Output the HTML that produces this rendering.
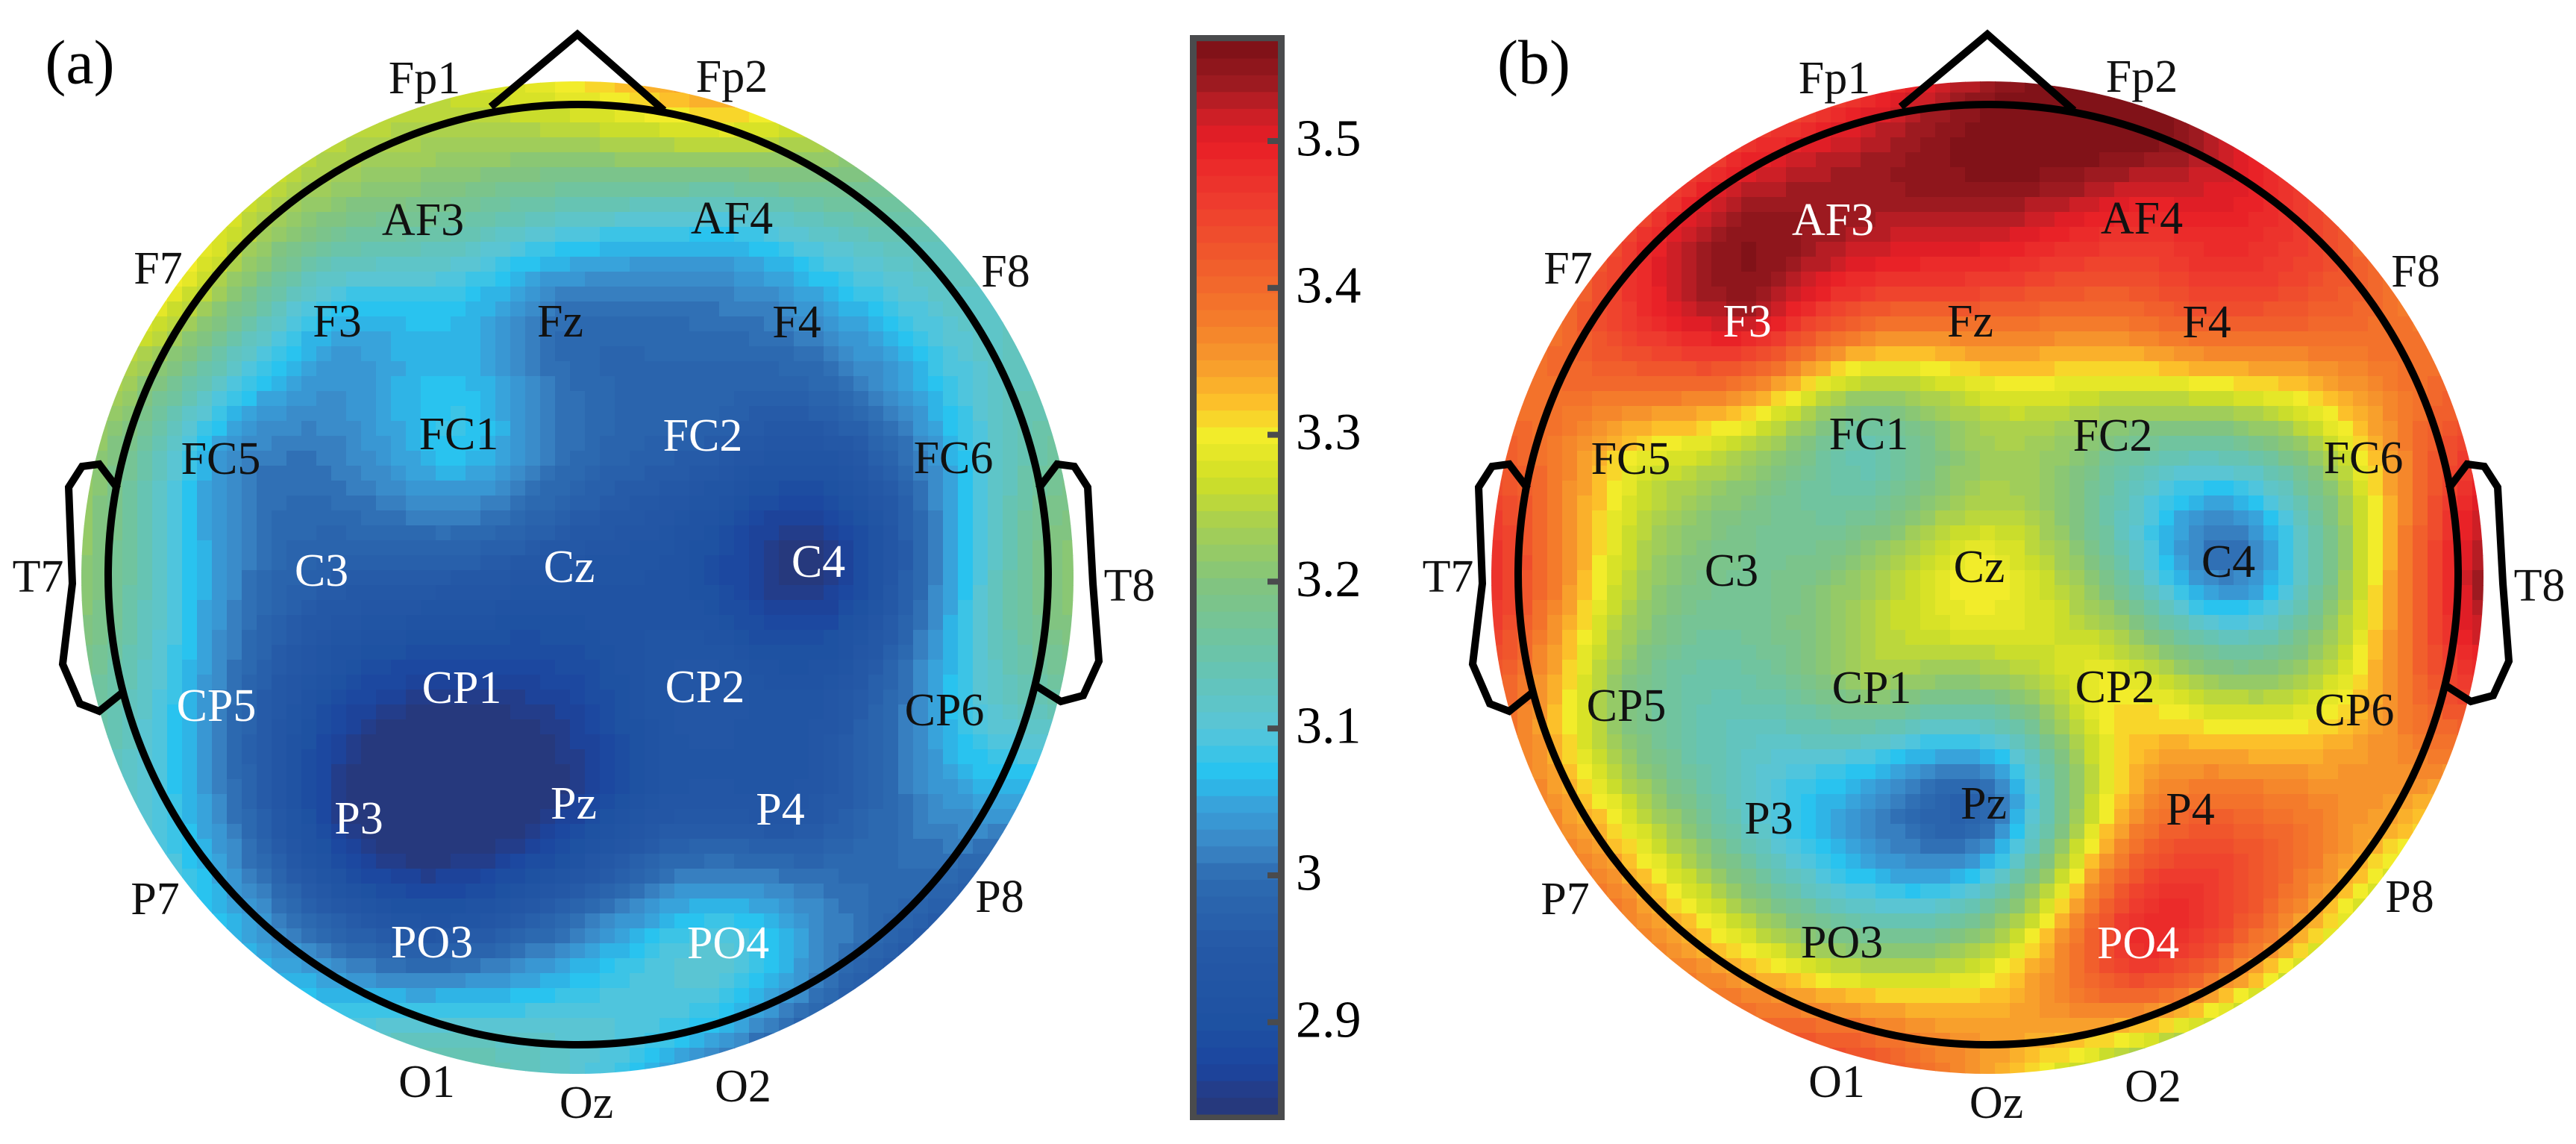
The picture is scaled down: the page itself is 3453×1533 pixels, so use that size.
<!DOCTYPE html>
<html><head><meta charset="utf-8"><style>
html,body{margin:0;padding:0;background:#fff;}
svg{display:block;}
svg text{font-family:"Liberation Serif","Times New Roman","DejaVu Serif",serif !important;}
</style></head><body>
<svg id="fig" width="3453" height="1533" viewBox="0 0 3453 1533" xmlns="http://www.w3.org/2000/svg">
<defs>
<clipPath id="discA"><circle cx="774" cy="774" r="665"/></clipPath>
<clipPath id="discB"><circle cx="2664" cy="774" r="665"/></clipPath>
</defs>
<g id="headA"><g id="cellsA" clip-path="url(#discA)"></g></g>
<g id="headB"><g id="cellsB" clip-path="url(#discB)"></g></g>
<g id="cbar"></g>
<text x="107" y="84" font-size="84" text-anchor="middle" dominant-baseline="central">(a)</text>
<text x="2056" y="84" font-size="84" text-anchor="middle" dominant-baseline="central">(b)</text>
</svg>
<script>
const electrodes = ["Fp1","Fp2","AF3","AF4","F7","F8","F3","Fz","F4","FC5","FC1","FC2","FC6","T7","C3","Cz","C4","T8","CP5","CP1","CP2","CP6","P7","P3","Pz","P4","P8","PO3","PO4","O1","Oz","O2"];
const valuesA = [3.26,3.36,3.17,3.10,3.32,3.12,3.06,3.00,3.02,3.04,3.08,2.97,3.06,3.24,2.97,2.93,2.84,3.21,3.02,2.86,2.94,3.06,3.10,2.84,2.86,2.93,2.94,2.95,3.10,3.16,3.08,2.94];
const valuesB = [3.42,3.57,3.54,3.48,3.38,3.36,3.52,3.40,3.42,3.30,3.15,3.20,3.30,3.50,3.18,3.30,3.00,3.57,3.20,3.22,3.30,3.32,3.40,3.10,2.98,3.40,3.22,3.20,3.48,3.45,3.30,3.12];
const whiteA = ["FC2","C3","Cz","C4","CP5","CP1","CP2","P3","Pz","P4","PO3","PO4"];
const whiteB = ["AF3","F3","PO4"];
const cbTicks = [3.5,3.4,3.3,3.2,3.1,3.0,2.9];
const cbTickLabels = ["3.5","3.4","3.3","3.2","3.1","3","2.9"];
const cmin = 2.8375, cmax = 3.568;
// layout (not data): electrode offsets from head centre
const elecPos = [[-205,-665],[207,-667],[-207,-475],[207,-477],[-562,-410],[574,-406],[-322,-339],[-23,-339],[294,-338],[-478,-155],[-159,-188],[168,-186],[504,-156],[-723,3],[-343,-5],[-11,-10],[323,-17],[740,15],[-484,176],[-155,152],[171,151],[492,182],[-566,435],[-293,327],[-5,307],[272,315],[566,432],[-195,493],[202,494],[-202,680],[12,708],[222,686]];
const stops = [[2.8375,"#273878"],[2.85,"#253a84"],[2.87,"#1b45a0"],[2.90,"#1e52a2"],[2.95,"#2558a6"],[3.00,"#2e6cb2"],[3.02,"#3a86c6"],[3.05,"#38a4dc"],[3.07,"#27c3f0"],[3.10,"#58c5d8"],[3.15,"#6ac4aa"],[3.20,"#82c47e"],[3.24,"#a8d050"],[3.27,"#d0df26"],[3.30,"#f2ec2a"],[3.32,"#fcc42a"],[3.35,"#f79a2c"],[3.38,"#f47b2b"],[3.42,"#f05a2c"],[3.46,"#ee3b2e"],[3.50,"#e81e26"],[3.52,"#c81f26"],[3.54,"#9c1a20"],[3.568,"#7a1016"]];
const NS="http://www.w3.org/2000/svg";
const FONT='"Liberation Serif", "Times New Roman", "DejaVu Serif", serif';
document.querySelectorAll('#fig > text').forEach(t=>t.setAttribute('font-family',FONT));
function hex(c){return [parseInt(c.substr(1,2),16),parseInt(c.substr(3,2),16),parseInt(c.substr(5,2),16)];}
function cmap(v){
  const lv=64; let t=Math.max(0,Math.min(0.9999,(v-cmin)/(cmax-cmin)));
  t=(Math.floor(t*lv)+0.5)/lv; v=cmin+t*(cmax-cmin);
  for(let i=1;i<stops.length;i++){ if(v<=stops[i][0]){const a=stops[i-1],b=stops[i];const f=(v-a[0])/(b[0]-a[0]);const ca=hex(a[1]),cb=hex(b[1]);
    return "rgb("+ca.map((x,k)=>Math.round(x+(cb[k]-x)*f)).join(",")+")";}}
  return stops[stops.length-1][1];
}
const yScale = v => 189 + (3.5 - v) * 1968;
function green(d2){ if(d2<1e-9) return 0; return d2*(0.5*Math.log(d2)-1); }
function solveWeights(vals){
  const n=vals.length, A=[];
  for(let i=0;i<n;i++){A.push([]);for(let j=0;j<n;j++){const dx=(elecPos[i][0]-elecPos[j][0])/100,dy=(elecPos[i][1]-elecPos[j][1])/100;A[i].push(green(dx*dx+dy*dy));}A[i].push(vals[i]);}
  for(let c=0;c<n;c++){let p=c;for(let r=c+1;r<n;r++)if(Math.abs(A[r][c])>Math.abs(A[p][c]))p=r;[A[c],A[p]]=[A[p],A[c]];
    for(let r=0;r<n;r++){if(r===c)continue;const f=A[r][c]/A[c][c];for(let k=c;k<=n;k++)A[r][k]-=f*A[c][k];}}
  return A.map((row,i)=>row[n]/row[i]);
}
function interp(w,dx,dy){let s=0;for(let i=0;i<w.length;i++){const ex=(elecPos[i][0]-dx)/100,ey=(elecPos[i][1]-dy)/100;s+=w[i]*green(ex*ex+ey*ey);}return s;}
function drawHead(cx,cy,vals,whites,gid,headId,tag){
  const g=document.getElementById(gid), cs=20, w=solveWeights(vals);
  for(let gy=-34;gy<=34;gy++){for(let gx=-34;gx<=34;gx++){
    const dx=gx*cs,dy=gy*cs+4; if(dx*dx+dy*dy>690*690)continue;
    const r=document.createElementNS(NS,"rect");
    r.setAttribute("x",cx+dx-cs/2);r.setAttribute("y",cy+dy-cs/2);r.setAttribute("width",cs+1);r.setAttribute("height",cs+1);
    r.setAttribute("fill",cmap(interp(w,dx,dy)));
    
    
    g.appendChild(r);}}
  const h=document.getElementById(headId);
  const c=document.createElementNS(NS,"circle");
  c.setAttribute("cx",cx+1);c.setAttribute("cy",cy);c.setAttribute("r",630);c.setAttribute("fill","none");c.setAttribute("stroke","#000");c.setAttribute("stroke-width","10");
  
  
  h.appendChild(c);
  const o=cx-774;
  const shapes=[["nose",[[658,143],[774,46],[890,148]]],["left-ear",[[158,655],[133,622],[110,625],[92,653],[97,782],[84,890],[107,943],[133,953],[163,929]]],["right-ear",[[1392,655],[1417,622],[1440,625],[1458,653],[1465,782],[1473,886],[1452,932],[1422,940],[1389,919]]]];
  shapes.forEach(s=>{const p=document.createElementNS(NS,"polyline");
    p.setAttribute("points",s[1].map(q=>(q[0]+o)+","+q[1]).join(" "));p.setAttribute("fill","none");p.setAttribute("stroke","#000");p.setAttribute("stroke-width","10");
    
    
    h.appendChild(p);});
  electrodes.forEach((n,i)=>{const t=document.createElementNS(NS,"text");
    t.setAttribute("x",cx+elecPos[i][0]);t.setAttribute("y",cy+elecPos[i][1]);t.setAttribute("font-size","62");t.setAttribute("font-family",FONT);t.setAttribute("text-anchor","middle");t.setAttribute("dominant-baseline","central");
    t.setAttribute("fill",whites.indexOf(n)>=0?"#fff":"#111");t.textContent=n;
    
    
    h.appendChild(t);});
}
drawHead(774,770,valuesA,whiteA,"cellsA","headA","a");
drawHead(2664,770,valuesB,whiteB,"cellsB","headB","b");
(function(){
  const g=document.getElementById("cbar");
  const bg=document.createElementNS(NS,"rect");
  bg.setAttribute("x",1595);bg.setAttribute("y",47);bg.setAttribute("width",127);bg.setAttribute("height",1454);bg.setAttribute("fill","#4a4b4d");
  
  
  g.appendChild(bg);
  const n=64;
  for(let i=0;i<n;i++){const v0=cmin+(cmax-cmin)*i/n,v1=cmin+(cmax-cmin)*(i+1)/n;
    const r=document.createElementNS(NS,"rect");
    r.setAttribute("x",1604);r.setAttribute("y",yScale(v1));r.setAttribute("width",109);r.setAttribute("height",yScale(v0)-yScale(v1)+0.8);
    r.setAttribute("fill",cmap((v0+v1)/2));
    
    
    g.appendChild(r);}
  cbTicks.forEach((v,i)=>{const y=yScale(v);
    const tk=document.createElementNS(NS,"rect");
    tk.setAttribute("x",1699);tk.setAttribute("y",y-4);tk.setAttribute("width",15);tk.setAttribute("height",8);tk.setAttribute("fill","#4a4b4d");
    
    
    g.appendChild(tk);
    const t=document.createElementNS(NS,"text");
    t.setAttribute("x",1737);t.setAttribute("y",y-3);t.setAttribute("font-size","70");t.setAttribute("font-family",FONT);t.setAttribute("dominant-baseline","central");t.textContent=cbTickLabels[i];
    
    
    g.appendChild(t);});
})();
</script>
</body></html>
